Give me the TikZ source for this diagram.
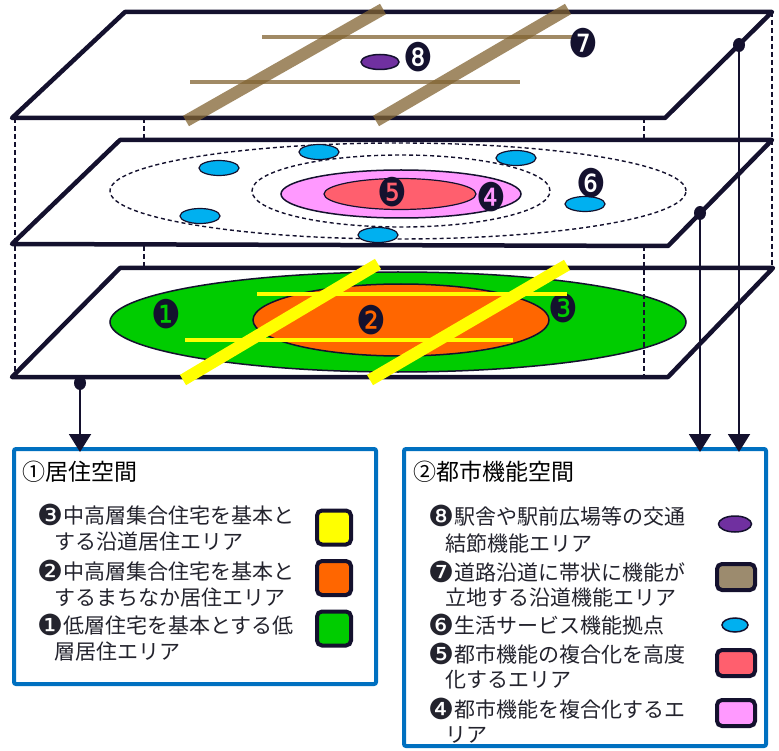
\documentclass[tikz,border=0pt]{standalone}
\usepackage{fontspec}
\newfontfamily\jp{Noto Sans CJK JP}
\newfontfamily\djv{DejaVu Sans}
\usetikzlibrary{arrows.meta,shapes.geometric}
\definecolor{navy}{RGB}{20,17,46}
\definecolor{boxblue}{RGB}{0,112,192}
\definecolor{cgreen}{RGB}{0,204,0}
\definecolor{corange}{RGB}{255,102,0}
\definecolor{cyellow}{RGB}{255,255,0}
\definecolor{cbrown}{RGB}{130,100,50}
\definecolor{cswbrown}{RGB}{156,139,110}
\definecolor{cred}{RGB}{255,95,110}
\definecolor{cpink}{RGB}{255,153,255}
\definecolor{ccyan}{RGB}{0,176,240}
\definecolor{cpurple}{RGB}{112,48,160}
\definecolor{txt}{RGB}{35,35,45}
\tikzset{
  plane/.style={fill=white, draw=navy, line width=4.5pt, line join=round},
  hidden/.style={draw=navy, line width=1.2pt, dash pattern=on 5pt off 3pt},
  zone/.style={draw=navy, line width=1.4pt, dash pattern=on 4pt off 3pt},
  badge/.style={inner sep=0pt, text=navy, font=\djv\fontsize{24pt}{24pt}\selectfont},
  spot/.style={fill=ccyan, draw=navy, line width=1.2pt},
  road/.style={draw=cbrown, opacity=0.75, line width=12pt},
  lane/.style={draw=cbrown, opacity=0.75, line width=4.5pt},
  yroad/.style={draw=cyellow, line width=12pt},
  ylane/.style={draw=cyellow, line width=4.5pt},
  link/.style={draw=navy, line width=2pt, -{Triangle[width=22pt,length=18pt]}, shorten >=-5pt},
  dotmark/.style={fill=navy},
  legendbox/.style={draw=boxblue, line width=4pt, fill=white, rounded corners=2pt, inner sep=0pt},
  swatch/.style={draw=navy, line width=4pt, rounded corners=5pt, inner sep=0pt},
  oval/.style={ellipse, draw=navy, line width=1.5pt, inner sep=0pt},
  item/.style={anchor=west, inner sep=0pt, text=txt, font=\jp\fontsize{21pt}{24pt}\selectfont},
  ttl/.style={anchor=west, inner sep=0pt, text=black, font=\jp\fontsize{23pt}{26pt}\selectfont},
}
\newcommand{\nb}[1]{\raisebox{-2pt}[0pt][0pt]{\djv\fontsize{20pt}{20pt}\selectfont\scalebox{1.45}{#1}}}
\newcommand{\bd}[1]{\scalebox{1.38}[1.65]{#1}}
\begin{document}
\begin{tikzpicture}[x=1pt,y=-1pt]
\useasboundingbox (0,0) rectangle (779,751);
% hidden edges
\draw[hidden] (15,118) -- (15,377);
\draw[hidden] (144,118) -- (144,268);
\draw[hidden] (644,118) -- (644,377);
\draw[hidden] (772,12) -- (772,268);

% ---------- top plane ----------
\coordinate (t1) at (125,12); \coordinate (t2) at (772,12);
\coordinate (t3) at (665,118); \coordinate (t4) at (12,118);
\draw[plane] (t1) -- (t2) -- (t3) -- (t4) -- cycle;
\draw[lane] (262,37) -- (573,37);
\draw[lane] (190,82) -- (520,82);
\draw[road] (186,121) -- (383,9);
\draw[road] (376,121) -- (568,9);
\draw[fill=cpurple, draw=navy, line width=1.5pt] (380,62) ellipse [x radius=19pt, y radius=7.5pt];
\node[badge] (b8) at (418,57) {\bd{❽}};
\node[badge] (b7) at (583,43) {\bd{❼}};

% ---------- middle plane ----------
\coordinate (m1) at (120,140); \coordinate (m2) at (772,140);
\coordinate (m3) at (668,246); \coordinate (m4) at (12,244);
\draw[plane] (m1) -- (m2) -- (m3) -- (m4) -- cycle;
\draw[zone] (398,191) ellipse [x radius=288pt, y radius=48pt];
\draw[zone] (401,191) ellipse [x radius=149pt, y radius=36pt];
\draw[fill=cpink, draw=navy, line width=1.5pt] (401,194) ellipse [x radius=120pt, y radius=24pt];
\draw[fill=cred, draw=navy, line width=1.2pt] (400,194) ellipse [x radius=76pt, y radius=15.5pt];
\foreach \p in {(319,152),(516,158),(219,168),(200,216),(378,235),(585,204)}
  \draw[spot] \p ellipse [x radius=20pt, y radius=7.5pt];
\node[badge] (b5) at (392,192) {\bd{❺}};
\node[badge] (b4) at (491,197) {\bd{❹}};
\node[badge] (b6) at (591,183) {\bd{❻}};

% ---------- bottom plane ----------
\coordinate (p1) at (120,268); \coordinate (p2) at (773,268);
\coordinate (p3) at (668,377); \coordinate (p4) at (12,377);
\draw[plane] (p1) -- (p2) -- (p3) -- (p4) -- cycle;
\draw[fill=cgreen, draw=navy, line width=1.5pt] (398,322) ellipse [x radius=288pt, y radius=50pt];
\draw[fill=corange, draw=navy, line width=1.5pt] (401,320) ellipse [x radius=148pt, y radius=36pt];
\draw[hidden] (644,270) -- (644,375);
\node[badge] (b1) at (166,314) {\bd{❶}};
\node[badge] (b2) at (371,320) {\bd{❷}};
\node[badge] (b3) at (563,308) {\bd{❸}};
\draw[ylane] (257,294) -- (567,294);
\draw[ylane] (185,340) -- (513,340);
\draw[yroad] (183,380) -- (378,264);
\draw[yroad] (370,380) -- (567,265);

% ---------- legend boxes ----------
\node[legendbox, minimum width=362pt, minimum height=235pt] (lbox) at (195,566.5) {};
\node[legendbox, minimum width=362pt, minimum height=297pt] (rbox) at (585,597.5) {};

% ---------- connectors ----------
\coordinate (dT) at (739,45);
\coordinate (dM) at (700,213);
\coordinate (dB) at (80,383);
\fill[dotmark] (dT) ellipse [x radius=6pt, y radius=7pt];
\fill[dotmark] (dM) ellipse [x radius=6pt, y radius=7pt];
\fill[dotmark] (dB) ellipse [x radius=6pt, y radius=7pt];
\draw[link] (dT) -- (dT |- rbox.north);
\draw[link] (dM) -- (dM |- rbox.north);
\draw[link] (dB) -- (dB |- lbox.north);

% ---------- left legend ----------
\node[ttl] (lt) at (22,472) {①居住空間};
\node[item] (l1) at (37,516) {\nb{❸}中高層集合住宅を基本と};
\node[item] (l2) at (54,542) {する沿道居住エリア};
\node[item] (l3) at (37,572) {\nb{❷}中高層集合住宅を基本と};
\node[item] (l4) at (54,598) {するまちなか居住エリア};
\node[item] (l5) at (37,625) {\nb{❶}低層住宅を基本とする低};
\node[item] (l6) at (54,652) {層居住エリア};
\node[swatch, fill=cyellow, minimum width=34pt, minimum height=34pt] (s3) at (334,527.5) {};
\node[swatch, fill=corange, minimum width=34pt, minimum height=34pt] (s2) at (334,578) {};
\node[swatch, fill=cgreen, minimum width=34pt, minimum height=34pt] (s1) at (334,628.5) {};

% ---------- right legend ----------
\node[ttl] (rt) at (413,472) {②都市機能空間};
\node[item] (r1) at (428,517) {\nb{❽}駅舎や駅前広場等の交通};
\node[item] (r2) at (445,543) {結節機能エリア};
\node[item] (r3) at (428,572) {\nb{❼}道路沿道に帯状に機能が};
\node[item] (r4) at (445,598) {立地する沿道機能エリア};
\node[item] (r5) at (428,626) {\nb{❻}生活サービス機能拠点};
\node[item] (r6) at (428,654) {\nb{❺}都市機能の複合化を高度};
\node[item] (r7) at (445,680) {化するエリア};
\node[item] (r8) at (428,709) {\nb{❹}都市機能を複合化するエ};
\node[item] (r9) at (445,735) {リア};
\node[oval, fill=cpurple, minimum width=33pt, minimum height=16pt] (s8) at (735,524) {};
\node[swatch, fill=cswbrown, minimum width=38pt, minimum height=26pt] (s7) at (736,577) {};
\node[oval, fill=ccyan, minimum width=26pt, minimum height=14pt] (s6) at (735,625) {};
\node[swatch, fill=cred, minimum width=38pt, minimum height=26pt] (s5) at (736,663) {};
\node[swatch, fill=cpink, minimum width=38pt, minimum height=26pt] (s4) at (736,713) {};
\end{tikzpicture}
\end{document}
